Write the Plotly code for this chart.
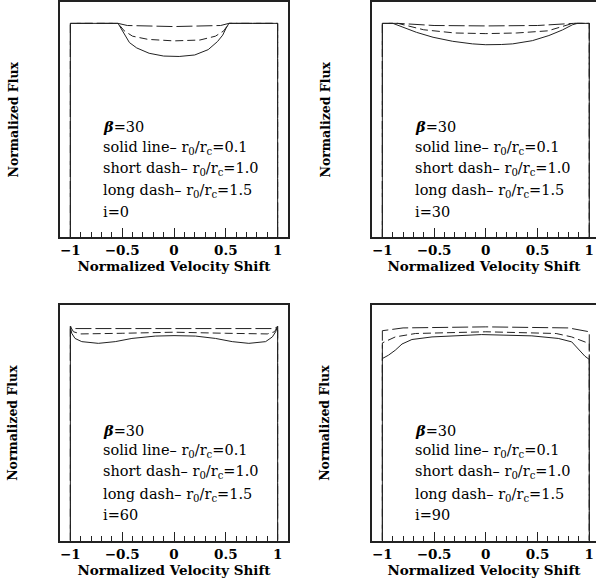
import plotly.graph_objects as go

# ---------------- data ----------------
tick_vals = [-1, -0.5, 0, 0.5, 1]
tick_text = ["\u22121", "\u22120.5", "0", "0.5", "1"]
inclinations = [0, 30, 60, 90]

# i = 0
vel_i0_solid = [-1, -1, -0.54, -0.51, -0.48, -0.43, -0.36, -0.24, -0.10, 0.05, 0.20, 0.33, 0.42, 0.47, 0.50, 0.53, 1, 1]
flux_i0_solid = [0, 1, 1, 0.975, 0.945, 0.91, 0.885, 0.86, 0.847, 0.845, 0.852, 0.877, 0.915, 0.945, 0.975, 1, 1, 0]
vel_i0_short = [-1, -1, -0.54, -0.48, -0.40, -0.25, 0, 0.25, 0.40, 0.48, 0.53, 1, 1]
flux_i0_short = [0, 1, 1, 0.965, 0.94, 0.925, 0.918, 0.922, 0.94, 0.965, 1, 1, 0]
vel_i0_long = [-1, -1, -0.54, -0.45, 0, 0.45, 0.53, 1, 1]
flux_i0_long = [0, 1, 1, 0.99, 0.985, 0.99, 1, 1, 0]

# i = 30
vel_i30_solid = [-1, -1, -0.898, -0.80, -0.67, -0.51, -0.32, -0.13, 0.0, 0.15, 0.26, 0.45, 0.61, 0.74, 0.84, 0.886, 1, 1]
flux_i30_solid = [0, 1, 1, 0.981, 0.958, 0.935, 0.916, 0.904, 0.900, 0.901, 0.904, 0.919, 0.943, 0.969, 0.994, 1, 1, 0]
vel_i30_short = [-1, -1, -0.85, -0.6, -0.3, 0, 0.3, 0.6, 0.84, 1, 1]
flux_i30_short = [0, 1, 1, 0.97, 0.955, 0.952, 0.955, 0.965, 1, 1, 0]
vel_i30_long = [-1, -1, -0.85, -0.5, 0, 0.5, 0.85, 1, 1]
flux_i30_long = [0, 1, 1, 0.99, 0.988, 0.99, 1, 1, 0]

# i = 60
vel_i60_solid = [-1, -1, -0.987, -0.955, -0.89, -0.73, -0.567, -0.406, -0.18, 0, 0.207, 0.40, 0.562, 0.722, 0.884, 0.949, 0.981, 1, 1]
flux_i60_solid = [0, 1.0, 0.968, 0.944, 0.929, 0.921, 0.929, 0.944, 0.955, 0.957, 0.955, 0.944, 0.929, 0.921, 0.929, 0.951, 0.975, 1, 0]
vel_i60_short = [-1, -1, -0.97, -0.9, -0.5, 0, 0.5, 0.9, 0.97, 1, 1]
flux_i60_short = [0, 1, 0.975, 0.965, 0.968, 0.973, 0.968, 0.965, 0.975, 1, 0]
vel_i60_long = [-1, -1, -0.97, 0, 0.97, 1, 1]
flux_i60_long = [0, 1, 0.99, 0.99, 0.99, 1, 0]

# i = 90
vel_i90_solid = [-1, -1, -0.94, -0.875, -0.81, -0.714, -0.52, -0.04, 0.445, 0.70, 0.83, 0.91, 0.958, 1, 1]
flux_i90_solid = [0, 0.85, 0.866, 0.889, 0.918, 0.939, 0.951, 0.962, 0.956, 0.944, 0.928, 0.889, 0.861, 0.846, 0]
vel_i90_short = [-1, -1, -0.875, -0.68, 0, 0.68, 0.83, 0.958, 1, 1]
flux_i90_short = [0, 0.923, 0.951, 0.967, 0.975, 0.967, 0.951, 0.928, 0.92, 0]
vel_i90_long = [-1, -1, -0.8, 0, 0.8, 1, 1]
flux_i90_long = [0, 0.98, 0.993, 0.998, 0.993, 0.975, 0]

panels = [
    [(vel_i0_solid, flux_i0_solid), (vel_i0_short, flux_i0_short), (vel_i0_long, flux_i0_long)],
    [(vel_i30_solid, flux_i30_solid), (vel_i30_short, flux_i30_short), (vel_i30_long, flux_i30_long)],
    [(vel_i60_solid, flux_i60_solid), (vel_i60_short, flux_i60_short), (vel_i60_long, flux_i60_long)],
    [(vel_i90_solid, flux_i90_solid), (vel_i90_short, flux_i90_short), (vel_i90_long, flux_i90_long)],
]

legend_lines = [
    "<b><i>\u03b2</i></b>=30",
    "solid line\u2013 r<sub>0</sub>/r<sub>c</sub>=0.1",
    "short dash\u2013 r<sub>0</sub>/r<sub>c</sub>=1.0",
    "long dash\u2013 r<sub>0</sub>/r<sub>c</sub>=1.5",
]
legend_y = [0.515, 0.418, 0.32, 0.215, 0.118]

# ---------------- layout ----------------
W, H = 596, 585
boxes = [  # left, right, top, bottom in pixels
    (60, 288, 2, 237),
    (372, 596, 2, 237),
    (60, 288, 305, 540.7),
    (372, 596, 305, 540.7),
]
x_ranges = [[-1.1, 1.1], [-1.1, 1.065], [-1.1, 1.1], [-1.1, 1.065]]

FONT = "DejaVu Serif"
line_col = "#222222"
txt_col = "#000000"
dashes = ["solid", "8px,4px", "16px,4px"]

fig = go.Figure()
layout = dict(
    width=W, height=H,
    margin=dict(l=0, r=0, t=0, b=0),
    paper_bgcolor="white", plot_bgcolor="white",
    showlegend=False,
    font=dict(family=FONT, color=txt_col, size=12),
)
annotations = []

for k, (box, series) in enumerate(zip(boxes, panels)):
    l, r, t, b = box
    xa = "xaxis" if k == 0 else f"xaxis{k+1}"
    ya = "yaxis" if k == 0 else f"yaxis{k+1}"
    xr = "x" if k == 0 else f"x{k+1}"
    yr = "y" if k == 0 else f"y{k+1}"
    for (xs, ys), d in zip(series, dashes):
        fig.add_trace(go.Scatter(x=xs, y=ys, mode="lines", xaxis=xr, yaxis=yr,
                                 line=dict(color=line_col, width=1, dash=d),
                                 hoverinfo="skip"))
    layout[xa] = dict(
        domain=[l / W, min(r / W, 1.0)], anchor=yr, range=x_ranges[k],
        showline=True, linecolor="#222222", linewidth=1.5, mirror=True,
        ticks="inside", ticklen=9, tickwidth=1.2, tickcolor="#222222",
        tickvals=tick_vals, ticktext=tick_text, showgrid=False, zeroline=False,
        tickfont=dict(family=FONT, size=13.5, color=txt_col, weight="bold"),
        ticklabelstandoff=0,
        minor=dict(ticks="inside", ticklen=5, tickwidth=1, tickcolor="#222222", dtick=0.1, showgrid=False),
        title=dict(text="<b>Normalized Velocity Shift</b>", standoff=0,
                   font=dict(family=FONT, size=13.5, color=txt_col)),
    )
    layout[ya] = dict(
        domain=[1 - b / H, 1 - t / H], anchor=xr, range=[0, 1.1],
        showline=True, linecolor="#222222", linewidth=1.5, mirror=(k % 2 == 0),
        ticks="", showticklabels=False, showgrid=False, zeroline=False,
    )
    # y title
    annotations.append(dict(
        text="<b>Normalized Flux</b>", textangle=-90, xref="paper", yref="paper",
        x=(l - 47) / W, y=1 - (t + b) / 2 / H, showarrow=False,
        font=dict(family=FONT, size=12.5, color=txt_col),
        xanchor="center", yanchor="middle",
    ))
    texts = legend_lines + [f"i={inclinations[k]}"]
    for txt, yy in zip(texts, legend_y):
        annotations.append(dict(
            text=txt, xref=xr, yref=yr, x=-0.70, y=yy, showarrow=False,
            xanchor="left", yanchor="middle",
            font=dict(family=FONT, size=14.5, color=txt_col),
        ))

layout["annotations"] = annotations
fig.update_layout(**layout)
fig.write_html("out.html")
